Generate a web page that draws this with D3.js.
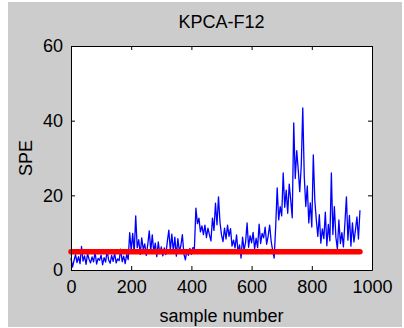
<!DOCTYPE html>
<html>
<head>
<meta charset="utf-8">
<script src="https://cdn.jsdelivr.net/npm/d3@7"></script>
<style>
    body { margin: 0; background: #fff; }
    text { font-family: "Liberation Sans", Arial, sans-serif; fill: #000; }
</style>
</head>
<body>
<svg width="404" height="328"></svg>
<script>
// tick labels
const xTicks = [0, 200, 400, 600, 800, 1000]
const yTicks = [0, 20, 40, 60]

// SPE statistic, one reading every 5 samples (0 ... 960)
const sampleStep = 5
const spe = [
    3.2, 0.8, 2.5, 4.1, 2.0, 3.6, 1.7, 6.3, 2.4, 3.8, 1.5, 4.4, 2.9, 1.9, 3.5, 2.2, 4.8, 1.6, 3.1, 2.6,
    4.0, 1.4, 3.3, 2.1, 5.2, 2.7, 1.8, 3.9, 2.3, 4.5, 1.9, 3.0, 2.5, 5.6, 2.2, 3.7, 1.7, 4.2, 2.8,
    10.0, 5.2, 9.8, 4.6, 14.5, 6.0, 8.1, 4.2, 8.6, 5.5, 7.0, 3.9, 6.8, 10.5, 5.1, 9.4, 4.8, 7.2, 3.6, 7.5,
    4.4, 6.2, 3.8, 5.9, 4.1, 7.6, 10.7, 5.3, 9.6, 4.9, 8.8, 3.7, 8.4, 5.0, 6.5, 9.5, 4.3, 2.7, 5.4, 3.9,
    5.8, 4.2, 6.0,
    5.8, 16.6, 12.4, 13.9, 10.2, 11.8, 9.5, 12.0, 8.7, 11.2, 9.4, 7.8, 13.9, 10.6, 17.9, 12.1, 19.6, 12.8, 9.4, 7.6,
    11.2, 8.3, 12.0, 9.0, 11.1, 6.4, 8.0, 5.9, 9.4, 4.8, 6.7, 3.2, 8.8, 5.3, 7.4, 12.6, 6.1, 9.2, 7.3, 10.1,
    5.6, 8.5, 6.0, 12.3, 7.1, 9.8, 8.6, 11.5, 6.9, 9.1, 12.0, 7.7, 5.2, 3.2, 11.5, 22.0, 13.4,
    17.0, 14.5, 26.0, 16.8, 21.4, 15.2, 23.0, 18.7, 14.0, 39.4, 24.5, 32.0, 26.8, 21.0, 28.0, 43.4, 25.0, 17.0, 22.5, 12.6,
    18.0, 11.5, 30.8, 18.7, 13.4, 9.0, 14.8, 7.2, 11.0, 8.4, 15.5, 6.5, 12.2, 7.8, 26.0, 9.5, 17.0, 8.8, 5.6, 13.4,
    7.1, 10.0, 6.2, 12.5, 19.6, 8.0, 14.6, 6.4, 12.6, 7.5, 10.7, 14.2, 8.3, 16.0
]

// control limit, at first and last sample
const limitSamples = [0, 960]
const limitValues = [4.9, 4.9]

const svg = d3.select('svg')
const plotLeft = 71, plotRight = 372, plotTop = 46, plotBottom = 270

// figure background
svg.append('rect')
    .attr('x', 8).attr('y', 2)
    .attr('width', 394).attr('height', 325)
    .attr('fill', '#cccccc')

svg.append('rect')
    .attr('x', plotLeft).attr('y', plotTop)
    .attr('width', plotRight - plotLeft).attr('height', plotBottom - plotTop)
    .attr('fill', '#fff')

const x = d3.scaleLinear().domain([0, 1000]).range([plotLeft, plotRight])
const y = d3.scaleLinear().domain([0, 60]).range([plotBottom, plotTop])

const line = d3.line()
    .x((d, i) => x(i * sampleStep))
    .y(d => y(d))

svg.append('path')
    .datum(spe)
    .attr('d', line)
    .attr('fill', 'none')
    .attr('stroke', '#0000ff')
    .attr('stroke-width', 1.3)
    .attr('stroke-linejoin', 'round')

const limitLine = d3.line()
    .x((d, i) => x(limitSamples[i]))
    .y(d => y(d))

svg.append('path')
    .datum(limitValues)
    .attr('d', limitLine)
    .attr('fill', 'none')
    .attr('stroke', '#ff0000')
    .attr('stroke-width', 5.5)
    .attr('stroke-linecap', 'round')

// axes, ticks pointing inward like matlab
function styleAxis(g) {
    g.select('.domain').attr('stroke', '#000')
    g.selectAll('.tick line').attr('stroke', '#000')
    g.selectAll('.tick text').style('font-size', '18px')
}

svg.append('g')
    .attr('transform', `translate(0,${plotBottom})`)
    .call(d3.axisBottom(x).tickValues(xTicks).tickFormat(d3.format('d'))
        .tickSizeInner(-4).tickSizeOuter(0).tickPadding(10))
    .call(styleAxis)

svg.append('g')
    .attr('transform', `translate(0,${plotTop})`)
    .call(d3.axisTop(x).tickValues(xTicks).tickSizeInner(-4).tickSizeOuter(0).tickFormat(''))
    .call(styleAxis)

svg.append('g')
    .attr('transform', `translate(${plotLeft},0)`)
    .call(d3.axisLeft(y).tickValues(yTicks).tickSizeInner(-4).tickSizeOuter(0).tickPadding(8))
    .call(styleAxis)

svg.append('g')
    .attr('transform', `translate(${plotRight},0)`)
    .call(d3.axisRight(y).tickValues(yTicks).tickSizeInner(-4).tickSizeOuter(0).tickFormat(''))
    .call(styleAxis)

// labels
svg.append('text')
    .attr('x', (plotLeft + plotRight) / 2).attr('y', 28)
    .attr('text-anchor', 'middle')
    .style('font-size', '18px')
    .text('KPCA-F12')

svg.append('text')
    .attr('x', (plotLeft + plotRight) / 2).attr('y', 322)
    .attr('text-anchor', 'middle')
    .style('font-size', '18px')
    .text('sample number')

svg.append('text')
    .attr('transform', `translate(32,${(plotTop + plotBottom) / 2}) rotate(-90)`)
    .attr('text-anchor', 'middle')
    .style('font-size', '18px')
    .text('SPE')
</script>
</body>
</html>
